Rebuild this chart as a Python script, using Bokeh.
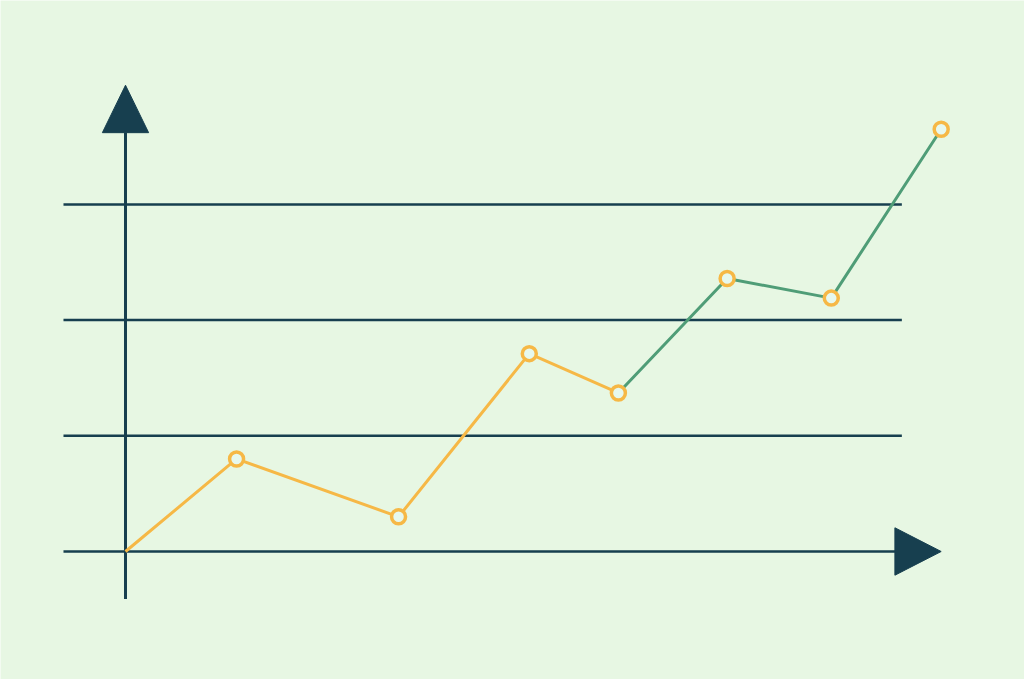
from bokeh.plotting import figure
from bokeh.embed import file_html
from bokeh.resources import INLINE

# ---- data (units: one grid step = 1) ----
x_vals = [0.0, 0.96, 2.36, 3.49, 4.26, 5.20, 6.10, 7.05]
y_vals = [0.0, 0.80, 0.30, 1.71, 1.37, 2.36, 2.19, 3.65]
split = 4  # orange up to this point, green after
grid_levels = [0, 1, 2, 3]

BG = "#e7f7e3"
NAVY = "#173f4f"
ORANGE = "#f6b846"
GREEN = "#4f9d77"
MFILL = "#e6f8ee"

PX = 115.7  # pixels per unit (both axes)
W, H = 1024, 679
# origin at (125, 551) in the picture
x0 = -125 / PX
y1 = 551 / PX
p = figure(width=W, height=H, output_backend="svg", toolbar_location=None,
           x_range=(x0, x0 + W / PX), y_range=(y1 - H / PX, y1),
           min_border=0, background_fill_color=BG, border_fill_color=BG)
p.axis.visible = False
p.grid.visible = False
p.outline_line_color = None

grid_left = -0.536
grid_right = 6.71
for g in grid_levels:
    p.line([grid_left, grid_right], [g, g], line_color=NAVY, line_width=2.5)

# y axis
y_axis_bottom = -0.41
y_arrow_base = 3.62
y_arrow_tip = 4.03
p.line([0, 0], [y_axis_bottom, y_arrow_base], line_color=NAVY, line_width=3)
hw = 0.20
p.patch([-hw, hw, 0], [y_arrow_base, y_arrow_base, y_arrow_tip], color=NAVY)

# x arrow
x_arrow_base = 6.65
x_arrow_tip = 7.05
hh = 0.205
p.patch([x_arrow_base, x_arrow_base, x_arrow_tip], [-hh, hh, 0], color=NAVY)

# data lines
p.line(x_vals[:split + 1], y_vals[:split + 1], line_color=ORANGE, line_width=3)
p.line(x_vals[split:], y_vals[split:], line_color=GREEN, line_width=3)
p.scatter(x_vals[1:], y_vals[1:], size=14, fill_color=MFILL,
          line_color=ORANGE, line_width=3.5)

open("out.html", "w").write(file_html(p, INLINE))
